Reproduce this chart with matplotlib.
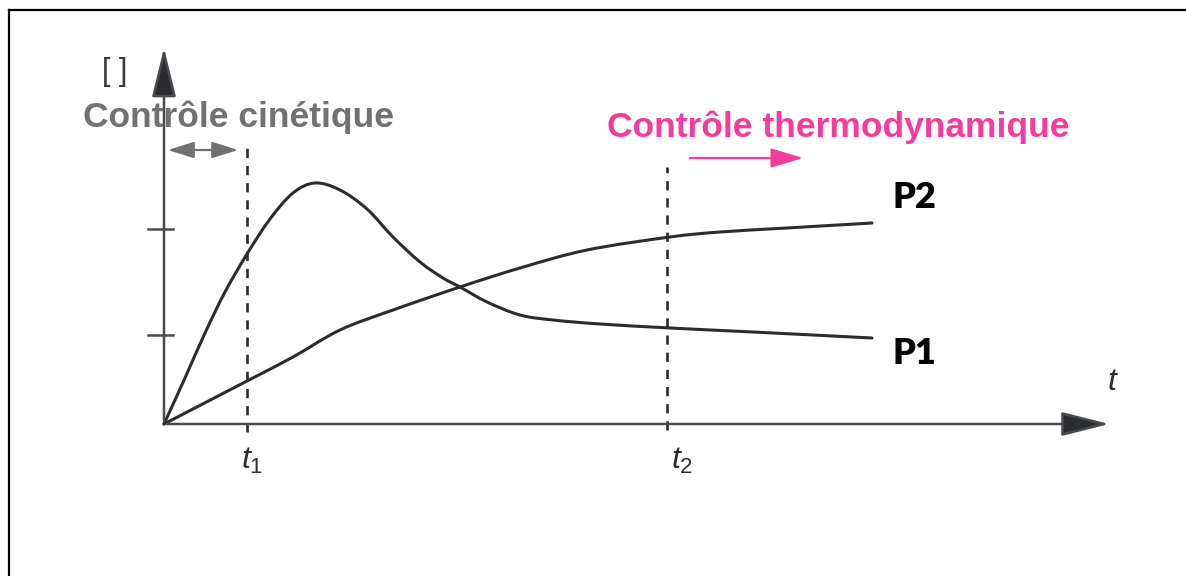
import matplotlib
matplotlib.use("Agg")
import matplotlib.pyplot as plt
from matplotlib.lines import Line2D
from matplotlib.path import Path
from matplotlib.patches import PathPatch

plt.rcParams["mathtext.fontset"] = "custom"
plt.rcParams["mathtext.it"] = "Liberation Sans:italic"
plt.rcParams["mathtext.rm"] = "Liberation Sans"

# curves (time, concentration)
p1_t = [0, 0.21, 0.41, 0.61, 0.83, 1.06, 1.29, 1.51, 1.76, 2.03, 2.29,
        2.56, 2.79, 2.96, 3.23, 3.56, 3.89, 4.36, 5.06, 5.89, 7.08]
p1_c = [0, 0.46, 0.91, 1.32, 1.70, 2.05, 2.31, 2.41, 2.34, 2.15, 1.87,
        1.62, 1.46, 1.37, 1.22, 1.09, 1.04, 1.00, 0.96, 0.92, 0.86]
p2_t = [0, 0.83, 1.29, 1.76, 2.29, 2.96, 3.56, 4.23, 5.06, 5.56, 6.23, 7.08]
p2_c = [0, 0.43, 0.67, 0.94, 1.14, 1.37, 1.56, 1.74, 1.87, 1.92, 1.96, 2.01]

y_ticks = [0.89, 1.95]
t1, t2 = 0.83, 5.03
t_max, c_max = 9.48, 3.79

ink = "#2b2c30"
axis_col = "#4a4a4f"
grey = "#717174"
pink = "#f53c9b"


def smooth_path(xs, ys):
    # Catmull-Rom through the read points, drawn as cubic Bezier segments
    pts = list(zip(xs, ys))
    verts = [pts[0]]
    codes = [Path.MOVETO]
    for i in range(len(pts) - 1):
        p0 = pts[i - 1] if i > 0 else pts[i]
        p1, p2 = pts[i], pts[i + 1]
        p3 = pts[i + 2] if i + 2 < len(pts) else pts[i + 1]
        c1 = (p1[0] + (p2[0] - p0[0]) / 6, p1[1] + (p2[1] - p0[1]) / 6)
        c2 = (p2[0] - (p3[0] - p1[0]) / 6, p2[1] - (p3[1] - p1[1]) / 6)
        verts += [c1, c2, p2]
        codes += [Path.CURVE4] * 3
    return Path(verts, codes)


fig = plt.figure(figsize=(11.86, 5.76), dpi=100)
ax = fig.add_axes([0, 0, 1, 1])
ax.set_xlim(-1.64, 10.22)
ax.set_ylim(-1.52, 4.24)
ax.axis("off")

# frame lines (top and left only)
fig.add_artist(Line2D([9 / 1186, 1], [1 - 10 / 576, 1 - 10 / 576], color="black", lw=1.6))
fig.add_artist(Line2D([9 / 1186, 9 / 1186], [0, 1 - 10 / 576], color="black", lw=1.6))

# axes with arrow heads
ax.annotate("", xy=(0, c_max), xytext=(0, 0),
            arrowprops=dict(arrowstyle="-|>,head_length=1.55,head_width=0.38",
                            mutation_scale=20, lw=1.8, color=axis_col, fc=ink))
ax.annotate("", xy=(t_max, 0), xytext=(0, 0),
            arrowprops=dict(arrowstyle="-|>,head_length=1.5,head_width=0.38",
                            mutation_scale=20, lw=1.8, color=axis_col, fc=ink))
for yt in y_ticks:
    ax.plot([-0.16, 0.09], [yt, yt], color=axis_col, lw=1.8)

# dashed time markers
ax.plot([t1, t1], [-0.08, 2.82], color=ink, lw=1.9, ls=(0, (3.5, 3)))
ax.plot([t2, t2], [-0.06, 2.57], color=ink, lw=1.9, ls=(0, (3.5, 3)))

# curves
for xs, ys in [(p1_t, p1_c), (p2_t, p2_c)]:
    ax.add_patch(PathPatch(smooth_path(xs, ys), fill=False, edgecolor=ink, lw=2.2,
                           capstyle="round", joinstyle="round"))

# labels
ax.text(t1 + 0.05, -0.36, r"$t_1$", fontsize=23, color=ink, ha="center", va="center")
ax.text(t2 + 0.15, -0.36, r"$t_2$", fontsize=23, color=ink, ha="center", va="center")
ax.text(t_max + 0.01, 0.42, r"$t$", fontsize=23, color=ink, ha="center", va="center")
ax.text(-0.49, 3.52, "[ ]", fontsize=22, color="#3a3a3e", ha="center", va="center",
        family="Liberation Sans")

ax.text(-0.81, 3.07, "Contrôle cinétique", fontsize=25.5, color=grey, fontweight="bold",
        family="Liberation Sans", ha="left", va="center")
ax.annotate("", xy=(0.77, 2.74), xytext=(0.01, 2.74),
            arrowprops=dict(arrowstyle="<|-|>,head_length=0.8,head_width=0.25",
                            mutation_scale=20, lw=1.6, color=grey))

ax.text(4.43, 2.97, "Contrôle thermodynamique", fontsize=25.5, color=pink, fontweight="bold",
        family="Liberation Sans", ha="left", va="center")
ax.annotate("", xy=(6.42, 2.66), xytext=(5.23, 2.66),
            arrowprops=dict(arrowstyle="-|>,head_length=1.0,head_width=0.3",
                            mutation_scale=20, lw=1.6, color=pink))

ax.text(7.29, 2.26, "P2", fontsize=26, color="black", fontweight="heavy",
        family="Lato", ha="left", va="center")
ax.text(7.29, 0.71, "P1", fontsize=26, color="black", fontweight="heavy",
        family="Lato", ha="left", va="center")

fig.savefig("out.png", dpi=100)
